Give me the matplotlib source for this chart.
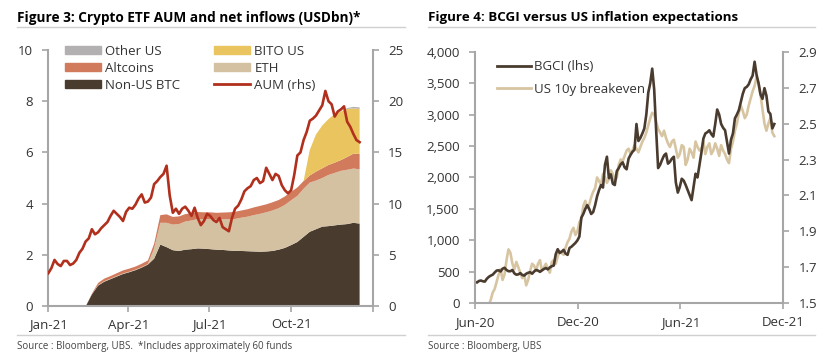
import matplotlib
matplotlib.use('Agg')
import matplotlib.pyplot as plt
from matplotlib.lines import Line2D
from matplotlib.patches import Patch
import pandas as pd

plt.rcParams['font.family'] = ['Open Sans', 'DejaVu Sans']

# Figure 3 data, weekly from 1 Jan 2021 (USDbn)
weeks21 = pd.date_range('2021-01-01', periods=51, freq='7D')
non_us_btc = [-0.04, -0.05, -0.05, -0.05, -0.04, -0.04, -0.02, 0.45, 0.8, 0.95,
              1.05, 1.15, 1.25, 1.32, 1.4, 1.5, 1.62, 1.85, 2.4, 2.3,
              2.18, 2.15, 2.2, 2.22, 2.25, 2.24, 2.22, 2.2, 2.19, 2.17,
              2.15, 2.15, 2.14, 2.13, 2.12, 2.13, 2.15, 2.2, 2.27, 2.38,
              2.5, 2.7, 2.9, 3.0, 3.1, 3.12, 3.15, 3.18, 3.2, 3.25, 3.22]
eth = [0, 0, 0, 0, 0, 0, 0, 0, 0.02, 0.02,
       0.02, 0.02, 0.02, 0.02, 0.02, 0.02, 0.02, 0.4, 0.85, 0.95,
       1.0, 1.05, 1.1, 1.12, 1.15, 1.15, 1.17, 1.18, 1.2, 1.22,
       1.25, 1.3, 1.35, 1.42, 1.48, 1.53, 1.58, 1.62, 1.68, 1.75,
       1.8, 1.88, 1.92, 1.9, 1.9, 2.0, 2.05, 2.1, 2.12, 2.12, 2.12]
altcoins = [0, 0, 0, 0, 0, 0, 0, 0.03, 0.08, 0.1,
            0.1, 0.11, 0.12, 0.12, 0.12, 0.13, 0.14, 0.18, 0.3, 0.33,
            0.3, 0.3, 0.29, 0.28, 0.27, 0.27, 0.27, 0.26, 0.26, 0.27,
            0.28, 0.28, 0.29, 0.3, 0.31, 0.31, 0.32, 0.32, 0.33, 0.33,
            0.33, 0.3, 0.28, 0.35, 0.38, 0.39, 0.4, 0.42, 0.5, 0.58, 0.6]
bito = [0] * 42 + [1.0, 1.45, 1.67, 1.79, 1.9, 1.9, 1.88, 1.77, 1.76]
other_us = [0] * 48 + [0.03, 0.06, 0.06]

# AUM, twice a week from 1 Jan 2021 (rhs)
halfweeks21 = pd.date_range('2021-01-01', periods=101, freq='84h')
aum = [3.2, 3.7, 4.5, 4.1, 3.9, 4.4, 4.4, 4.0, 4.15, 4.5,
       5.2, 5.6, 6.3, 6.6, 7.5, 7.0, 7.2, 7.6, 7.9, 8.2,
       8.8, 9.3, 9.0, 8.7, 8.3, 9.2, 9.6, 9.5, 9.9, 10.5,
       10.9, 10.1, 10.2, 10.6, 11.9, 12.2, 12.6, 12.9, 13.7, 10.8,
       9.1, 9.5, 9.0, 9.5, 9.7, 9.3, 8.8, 9.6, 8.6, 7.9,
       8.3, 9.0, 8.8, 8.4, 8.2, 8.6, 7.7, 7.5, 7.3, 8.6,
       9.5, 9.8, 10.4, 11.2, 11.5, 11.7, 12.3, 12.5, 12.0, 12.2,
       13.5, 12.9, 12.3, 12.9, 12.7, 11.8, 11.3, 11.0, 11.3, 12.8,
       14.7, 15.0, 16.2, 17.0, 18.1, 18.3, 18.6, 19.1, 19.6, 21.0,
       20.0, 19.7, 18.5, 19.0, 19.2, 19.5, 18.0, 17.5, 16.8, 16.2,
       16.0]
ticks21 = pd.to_datetime(['2021-01-01', '2021-04-01', '2021-07-01', '2021-10-01', '2022-01-01'])
ticklabels21 = ['Jan-21', 'Apr-21', 'Jul-21', 'Oct-21', '']

# Figure 4 data, twice a week from 1 Jun 2020
days20 = pd.date_range('2020-06-01', periods=153, freq='84h')
bgci = [340, 330, 355, 362, 350, 345, 390, 420, 440, 455,
        490, 520, 525, 505, 550, 565, 530, 510, 510, 530,
        475, 455, 460, 480, 450, 440, 470, 485, 495, 470,
        505, 530, 520, 500, 525, 545, 560, 540, 570, 590,
        600, 780, 860, 800, 820, 850, 790, 770, 880, 900,
        930, 960, 1000, 1060, 1360, 1420, 1500, 1560, 1500, 1420,
        1450, 1560, 1700, 1800, 1880, 1840, 2200, 2330, 1990, 2050,
        1900, 1880, 2100, 2150, 2210, 2240, 2160, 2130, 2300, 2360,
        2410, 2440, 2850, 2580, 2630, 2700, 2780, 3000, 3350, 3500,
        3730, 3400, 2750, 2150, 2200, 2280, 2350, 2380, 2220, 2250,
        2300, 2330, 1920, 1760, 1850, 1980, 1950, 1880, 1800, 1720,
        1640, 1850, 2060, 2000, 2200, 2400, 2620, 2700, 2720, 2750,
        2690, 2650, 2850, 3080, 3000, 2850, 2790, 2750, 2560, 2380,
        2600, 2700, 2940, 3000, 3070, 3200, 3330, 3420, 3440, 3480,
        3560, 3620, 3840, 3630, 3500, 3320, 3250, 3420, 3300, 3050,
        3010, 2780, 2850]
breakeven = [1.30, 1.33, 1.35, 1.37, 1.40, 1.44, 1.46, 1.49, 1.52, 1.56,
             1.58, 1.62, 1.66, 1.69, 1.63, 1.66, 1.74, 1.80, 1.78, 1.72,
             1.69, 1.73, 1.70, 1.67, 1.64, 1.66, 1.60, 1.63, 1.68, 1.72,
             1.71, 1.68, 1.72, 1.74, 1.68, 1.70, 1.72, 1.69, 1.67, 1.73,
             1.74, 1.72, 1.76, 1.79, 1.78, 1.77, 1.81, 1.84, 1.86, 1.90,
             1.92, 1.88, 1.90, 1.95, 1.97, 2.04, 2.07, 2.03, 2.05, 2.09,
             2.12, 2.14, 2.20, 2.18, 2.16, 2.22, 2.20, 2.17, 2.19, 2.24,
             2.22, 2.18, 2.20, 2.27, 2.30, 2.29, 2.32, 2.35, 2.36, 2.33,
             2.35, 2.38, 2.36, 2.34, 2.37, 2.40, 2.42, 2.45, 2.49, 2.53,
             2.56, 2.55, 2.51, 2.47, 2.45, 2.43, 2.46, 2.42, 2.39, 2.37,
             2.40, 2.41, 2.36, 2.31, 2.33, 2.38, 2.37, 2.27, 2.30, 2.36,
             2.34, 2.31, 2.40, 2.37, 2.35, 2.36, 2.40, 2.33, 2.37, 2.39,
             2.33, 2.35, 2.39, 2.36, 2.32, 2.38, 2.35, 2.33, 2.30, 2.28,
             2.36, 2.40, 2.46, 2.50, 2.56, 2.60, 2.57, 2.53, 2.55, 2.60,
             2.64, 2.68, 2.71, 2.76, 2.72, 2.66, 2.58, 2.50, 2.46, 2.50,
             2.53, 2.45, 2.43]
ticks20 = pd.to_datetime(['2020-06-01', '2020-12-01', '2021-06-01', '2021-12-01'])
ticklabels20 = ['Jun-20', 'Dec-20', 'Jun-21', 'Dec-21']

c_btc = '#4a3b2f'
c_eth = '#d3c1a1'
c_alt = '#d27a5c'
c_bito = '#eac45e'
c_other = '#b3b0b2'
c_aum = '#b1301d'
c_be = '#d7c5a2'
spine_c = '#a6a6a6'
text_c = '#333333'


def style_axis(ax):
    ax.spines['top'].set_visible(False)
    for s in ['left', 'right', 'bottom']:
        ax.spines[s].set_color(spine_c)
        ax.spines[s].set_linewidth(1.5)
    ax.tick_params(colors=spine_c, labelcolor=text_c, labelsize=9.5, length=4, width=1.2)


fig = plt.figure(figsize=(8.31, 3.6), dpi=100)

# ---- Figure 3
ax1 = fig.add_axes([0.0581, 0.15, 0.3907, 0.7111])
ax1.stackplot(weeks21, non_us_btc, eth, altcoins, bito, other_us,
              colors=[c_btc, c_eth, c_alt, c_bito, c_other], linewidth=0)
ax1.set_xlim(ticks21[0], ticks21[-1])
ax1.set_ylim(0, 10)
ax1.set_yticks([0, 2, 4, 6, 8, 10])
ax1.set_xticks(ticks21)
ax1.set_xticklabels(ticklabels21)
style_axis(ax1)
ax1.spines['right'].set_visible(False)
ax1.tick_params(axis='y', pad=7)
ax1.tick_params(axis='x', pad=5)

ax1r = ax1.twinx()
ax1r.plot(halfweeks21, aum, color=c_aum, lw=1.9)
ax1r.set_ylim(0, 25)
ax1r.set_yticks([0, 5, 10, 15, 20, 25])
style_axis(ax1r)
ax1r.spines['left'].set_visible(False)
ax1r.spines['bottom'].set_visible(False)
ax1r.tick_params(axis='y', pad=7)

h1 = [Patch(color=c_other), Patch(color=c_alt), Patch(color=c_btc),
      Patch(color=c_bito), Patch(color=c_eth), Line2D([], [], color=c_aum, lw=2)]
l1 = ['Other US', 'Altcoins', 'Non-US BTC', 'BITO US', 'ETH', 'AUM (rhs)']
ax1.legend(h1, l1, ncol=2, loc='upper left', bbox_to_anchor=(0.05, 1.02),
           frameon=False, fontsize=9.5, borderpad=0, borderaxespad=0,
           handlelength=2.8, handleheight=0.55, handletextpad=0.3,
           labelspacing=0.3, columnspacing=2.5, labelcolor=text_c)

# ---- Figure 4
ax2 = fig.add_axes([0.5716, 0.1575, 0.371, 0.699])
ax2r = ax2.twinx()
ax2r.plot(days20, breakeven, color=c_be, lw=1.9)
ax2.plot(days20, bgci, color=c_btc, lw=1.9)
ax2.set_zorder(ax2r.get_zorder() + 1)
ax2.patch.set_visible(False)
ax2.set_xlim(ticks20[0], ticks20[-1])
ax2.set_ylim(0, 4000)
ax2.set_yticks(range(0, 4001, 500))
ax2.set_yticklabels([f'{v:,}' for v in range(0, 4001, 500)])
ax2.set_xticks(ticks20)
ax2.set_xticklabels(ticklabels20)
style_axis(ax2)
ax2.spines['right'].set_visible(False)
ax2.tick_params(axis='y', pad=7)
ax2.tick_params(axis='x', pad=5)
ax2r.set_ylim(1.5, 2.9)
ax2r.set_yticks([1.5, 1.7, 1.9, 2.1, 2.3, 2.5, 2.7, 2.9])
style_axis(ax2r)
ax2r.spines['left'].set_visible(False)
ax2r.spines['bottom'].set_visible(False)
ax2r.tick_params(axis='y', pad=7)

h2 = [Line2D([], [], color=c_btc, lw=2), Line2D([], [], color=c_be, lw=2)]
ax2.legend(h2, ['BGCI (lhs)', 'US 10y breakeven'], loc='upper left',
           bbox_to_anchor=(0.07, 0.965), frameon=False, fontsize=9.5,
           borderpad=0, borderaxespad=0, handlelength=2.6, handletextpad=0.25,
           labelspacing=0.7, labelcolor=text_c)

# ---- titles, rules and sources
fig.text(17 / 831, 1 - 18 / 360, 'Figure 3: Crypto ETF AUM and net inflows (USDbn)*',
         fontsize=9.8, fontweight='bold', va='center', ha='left')
fig.text(428 / 831, 1 - 18 / 360, 'Figure 4: BCGI versus US inflation expectations',
         fontsize=9.6, fontweight='bold', va='center', ha='left')
for x0, x1 in [(17, 405), (428, 815)]:
    for y in [26.5, 335]:
        fig.add_artist(Line2D([x0 / 831, x1 / 831], [1 - y / 360, 1 - y / 360],
                              transform=fig.transFigure, color='#d0d0d0', lw=1))
fig.text(17 / 831, 1 - 347 / 360, 'Source : Bloomberg, UBS.  *Includes approximately 60 funds',
         fontsize=7, color='#444444', va='center', ha='left')
fig.text(428 / 831, 1 - 347 / 360, 'Source : Bloomberg, UBS',
         fontsize=7, color='#444444', va='center', ha='left')

fig.savefig('out.png', dpi=100)
